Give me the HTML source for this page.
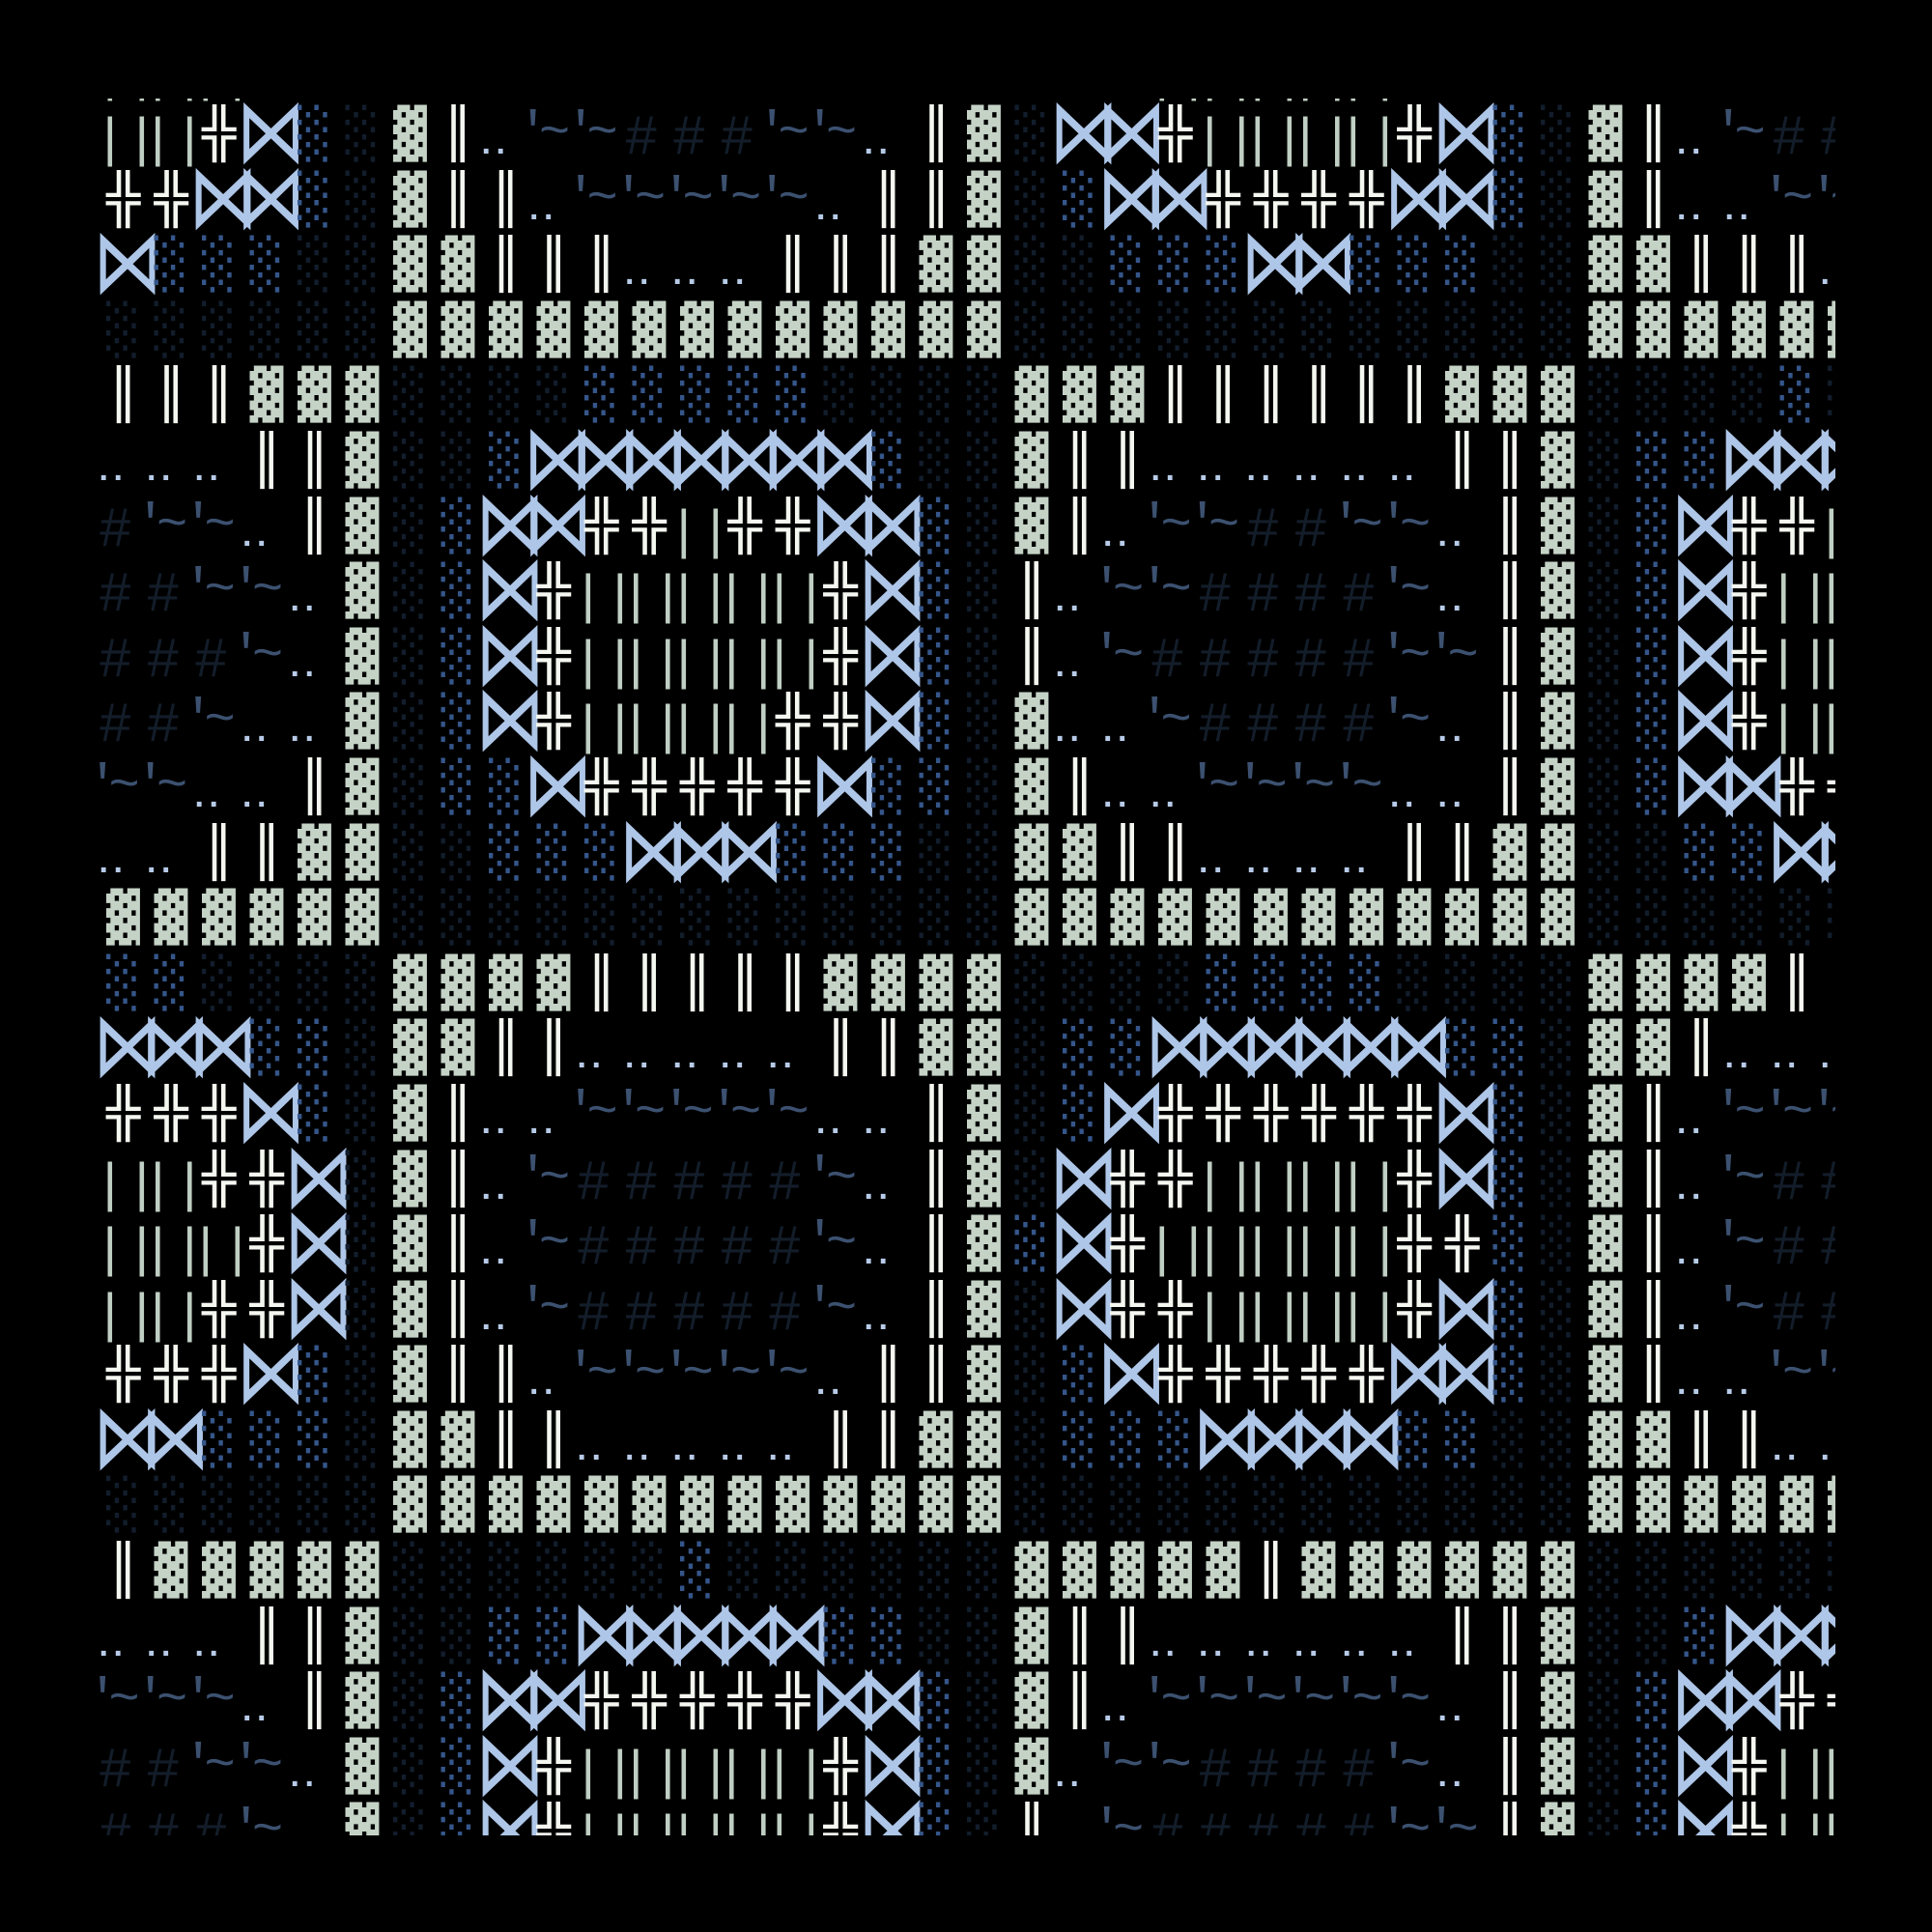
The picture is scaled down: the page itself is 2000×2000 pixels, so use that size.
<!DOCTYPE html>
<html><head><meta charset="utf-8">
<style>
html,body{margin:0;padding:0;background:#000;}
body{width:2000px;height:2000px;overflow:hidden;position:relative;}
#g{position:absolute;left:102px;top:102px;width:1798px;height:1798px;overflow:hidden;}
#in{position:absolute;left:0;top:-67.6px;width:1900px;}
.r{display:flex;height:67.6px;}
.r i{flex:none;width:49.5px;height:67.6px;font-style:normal;white-space:pre;overflow:visible;position:relative;box-sizing:border-box;}
.bk,.dl,.pl,.ss,.sd{font-family:"DejaVu Sans Mono",monospace;font-size:58px;line-height:67.5px;padding-left:8px;transform:translateY(7px) scaleY(.874);transform-origin:0 0;}
.bk{color:#c5d3c7}
.dl,.pl{color:#f4f6f0}
.ss{color:#35568a}
.sd{color:#121d2c}
.bt{font-family:"DejaVu Sans",sans-serif;font-size:72px;line-height:67.6px;color:#aec6e8;text-indent:-6px;transform:scaleY(1.3);}
.ln{font-family:"Liberation Mono",monospace;font-size:56px;line-height:67.6px;color:#c0cfc3;text-indent:-5px;letter-spacing:-0.6px;transform:translateY(11px);}
.dt{font-family:"Liberation Mono",monospace;font-weight:bold;font-size:34px;line-height:67.6px;color:#b7cbe8;text-indent:-5px;letter-spacing:-5.4px;transform:translateY(16px);}
.tl{font-family:"Liberation Mono",monospace;font-size:54px;line-height:67.6px;color:#3c5170;text-indent:-12px;letter-spacing:-10px;transform:translateY(3px);}
.hs{font-family:"Liberation Mono",monospace;font-size:58px;line-height:67.6px;color:#131d2a;transform:translateY(9px);}
</style></head><body>
<div id="g"><div id="in">
<div class="r"><i class="ln">||</i><i class="ln">||</i><i class="ln">||</i><i></i><i></i><i></i><i></i><i></i><i class="dt">..</i><i></i><i></i><i></i><i></i><i></i><i></i><i></i><i class="dt">..</i><i></i><i></i><i></i><i></i><i></i><i class="ln">||</i><i class="ln">||</i><i class="ln">||</i><i class="ln">||</i><i class="ln">||</i><i></i><i></i><i></i><i></i><i></i><i></i><i class="dt">..</i><i></i><i></i><i></i></div>
<div class="r"><i class="ln">||</i><i class="ln">||</i><i class="pl">╬</i><i class="bt">⋈</i><i class="ss">░</i><i class="sd">░</i><i class="bk">▓</i><i class="dl">║</i><i class="dt">..</i><i class="tl">'~</i><i class="tl">'~</i><i class="hs">#</i><i class="hs">#</i><i class="hs">#</i><i class="tl">'~</i><i class="tl">'~</i><i class="dt">..</i><i class="dl">║</i><i class="bk">▓</i><i class="sd">░</i><i class="bt">⋈</i><i class="bt">⋈</i><i class="pl">╬</i><i class="ln">||</i><i class="ln">||</i><i class="ln">||</i><i class="ln">||</i><i class="pl">╬</i><i class="bt">⋈</i><i class="ss">░</i><i class="sd">░</i><i class="bk">▓</i><i class="dl">║</i><i class="dt">..</i><i class="tl">'~</i><i class="hs">#</i><i class="hs">#</i></div>
<div class="r"><i class="pl">╬</i><i class="pl">╬</i><i class="bt">⋈</i><i class="bt">⋈</i><i class="ss">░</i><i class="sd">░</i><i class="bk">▓</i><i class="dl">║</i><i class="dl">║</i><i class="dt">..</i><i class="tl">'~</i><i class="tl">'~</i><i class="tl">'~</i><i class="tl">'~</i><i class="tl">'~</i><i class="dt">..</i><i class="dl">║</i><i class="dl">║</i><i class="bk">▓</i><i class="sd">░</i><i class="ss">░</i><i class="bt">⋈</i><i class="bt">⋈</i><i class="pl">╬</i><i class="pl">╬</i><i class="pl">╬</i><i class="pl">╬</i><i class="bt">⋈</i><i class="bt">⋈</i><i class="ss">░</i><i class="sd">░</i><i class="bk">▓</i><i class="dl">║</i><i class="dt">..</i><i class="dt">..</i><i class="tl">'~</i><i class="tl">'~</i></div>
<div class="r"><i class="bt">⋈</i><i class="ss">░</i><i class="ss">░</i><i class="ss">░</i><i class="sd">░</i><i class="sd">░</i><i class="bk">▓</i><i class="bk">▓</i><i class="dl">║</i><i class="dl">║</i><i class="dl">║</i><i class="dt">..</i><i class="dt">..</i><i class="dt">..</i><i class="dl">║</i><i class="dl">║</i><i class="dl">║</i><i class="bk">▓</i><i class="bk">▓</i><i class="sd">░</i><i class="sd">░</i><i class="ss">░</i><i class="ss">░</i><i class="ss">░</i><i class="bt">⋈</i><i class="bt">⋈</i><i class="ss">░</i><i class="ss">░</i><i class="ss">░</i><i class="sd">░</i><i class="sd">░</i><i class="bk">▓</i><i class="bk">▓</i><i class="dl">║</i><i class="dl">║</i><i class="dl">║</i><i class="dt">..</i></div>
<div class="r"><i class="sd">░</i><i class="sd">░</i><i class="sd">░</i><i class="sd">░</i><i class="sd">░</i><i class="sd">░</i><i class="bk">▓</i><i class="bk">▓</i><i class="bk">▓</i><i class="bk">▓</i><i class="bk">▓</i><i class="bk">▓</i><i class="bk">▓</i><i class="bk">▓</i><i class="bk">▓</i><i class="bk">▓</i><i class="bk">▓</i><i class="bk">▓</i><i class="bk">▓</i><i class="sd">░</i><i class="sd">░</i><i class="sd">░</i><i class="sd">░</i><i class="sd">░</i><i class="sd">░</i><i class="sd">░</i><i class="sd">░</i><i class="sd">░</i><i class="sd">░</i><i class="sd">░</i><i class="sd">░</i><i class="bk">▓</i><i class="bk">▓</i><i class="bk">▓</i><i class="bk">▓</i><i class="bk">▓</i><i class="bk">▓</i></div>
<div class="r"><i class="dl">║</i><i class="dl">║</i><i class="dl">║</i><i class="bk">▓</i><i class="bk">▓</i><i class="bk">▓</i><i class="sd">░</i><i class="sd">░</i><i class="sd">░</i><i class="sd">░</i><i class="ss">░</i><i class="ss">░</i><i class="ss">░</i><i class="ss">░</i><i class="ss">░</i><i class="sd">░</i><i class="sd">░</i><i class="sd">░</i><i class="sd">░</i><i class="bk">▓</i><i class="bk">▓</i><i class="bk">▓</i><i class="dl">║</i><i class="dl">║</i><i class="dl">║</i><i class="dl">║</i><i class="dl">║</i><i class="dl">║</i><i class="bk">▓</i><i class="bk">▓</i><i class="bk">▓</i><i class="sd">░</i><i class="sd">░</i><i class="sd">░</i><i class="sd">░</i><i class="ss">░</i><i class="sd">░</i></div>
<div class="r"><i class="dt">..</i><i class="dt">..</i><i class="dt">..</i><i class="dl">║</i><i class="dl">║</i><i class="bk">▓</i><i class="sd">░</i><i class="sd">░</i><i class="ss">░</i><i class="bt">⋈</i><i class="bt">⋈</i><i class="bt">⋈</i><i class="bt">⋈</i><i class="bt">⋈</i><i class="bt">⋈</i><i class="bt">⋈</i><i class="ss">░</i><i class="sd">░</i><i class="sd">░</i><i class="bk">▓</i><i class="dl">║</i><i class="dl">║</i><i class="dt">..</i><i class="dt">..</i><i class="dt">..</i><i class="dt">..</i><i class="dt">..</i><i class="dt">..</i><i class="dl">║</i><i class="dl">║</i><i class="bk">▓</i><i class="sd">░</i><i class="ss">░</i><i class="ss">░</i><i class="bt">⋈</i><i class="bt">⋈</i><i class="bt">⋈</i></div>
<div class="r"><i class="hs">#</i><i class="tl">'~</i><i class="tl">'~</i><i class="dt">..</i><i class="dl">║</i><i class="bk">▓</i><i class="sd">░</i><i class="ss">░</i><i class="bt">⋈</i><i class="bt">⋈</i><i class="pl">╬</i><i class="pl">╬</i><i class="ln">||</i><i class="pl">╬</i><i class="pl">╬</i><i class="bt">⋈</i><i class="bt">⋈</i><i class="ss">░</i><i class="sd">░</i><i class="bk">▓</i><i class="dl">║</i><i class="dt">..</i><i class="tl">'~</i><i class="tl">'~</i><i class="hs">#</i><i class="hs">#</i><i class="tl">'~</i><i class="tl">'~</i><i class="dt">..</i><i class="dl">║</i><i class="bk">▓</i><i class="sd">░</i><i class="ss">░</i><i class="bt">⋈</i><i class="pl">╬</i><i class="pl">╬</i><i class="ln">||</i></div>
<div class="r"><i class="hs">#</i><i class="hs">#</i><i class="tl">'~</i><i class="tl">'~</i><i class="dt">..</i><i class="bk">▓</i><i class="sd">░</i><i class="ss">░</i><i class="bt">⋈</i><i class="pl">╬</i><i class="ln">||</i><i class="ln">||</i><i class="ln">||</i><i class="ln">||</i><i class="ln">||</i><i class="pl">╬</i><i class="bt">⋈</i><i class="ss">░</i><i class="sd">░</i><i class="dl">║</i><i class="dt">..</i><i class="tl">'~</i><i class="tl">'~</i><i class="hs">#</i><i class="hs">#</i><i class="hs">#</i><i class="hs">#</i><i class="tl">'~</i><i class="dt">..</i><i class="dl">║</i><i class="bk">▓</i><i class="sd">░</i><i class="ss">░</i><i class="bt">⋈</i><i class="pl">╬</i><i class="ln">||</i><i class="ln">||</i></div>
<div class="r"><i class="hs">#</i><i class="hs">#</i><i class="hs">#</i><i class="tl">'~</i><i class="dt">..</i><i class="bk">▓</i><i class="sd">░</i><i class="ss">░</i><i class="bt">⋈</i><i class="pl">╬</i><i class="ln">||</i><i class="ln">||</i><i class="ln">||</i><i class="ln">||</i><i class="ln">||</i><i class="pl">╬</i><i class="bt">⋈</i><i class="ss">░</i><i class="sd">░</i><i class="dl">║</i><i class="dt">..</i><i class="tl">'~</i><i class="hs">#</i><i class="hs">#</i><i class="hs">#</i><i class="hs">#</i><i class="hs">#</i><i class="tl">'~</i><i class="tl">'~</i><i class="dl">║</i><i class="bk">▓</i><i class="sd">░</i><i class="ss">░</i><i class="bt">⋈</i><i class="pl">╬</i><i class="ln">||</i><i class="ln">||</i></div>
<div class="r"><i class="hs">#</i><i class="hs">#</i><i class="tl">'~</i><i class="dt">..</i><i class="dt">..</i><i class="bk">▓</i><i class="sd">░</i><i class="ss">░</i><i class="bt">⋈</i><i class="pl">╬</i><i class="ln">||</i><i class="ln">||</i><i class="ln">||</i><i class="ln">||</i><i class="pl">╬</i><i class="pl">╬</i><i class="bt">⋈</i><i class="ss">░</i><i class="sd">░</i><i class="bk">▓</i><i class="dt">..</i><i class="dt">..</i><i class="tl">'~</i><i class="hs">#</i><i class="hs">#</i><i class="hs">#</i><i class="hs">#</i><i class="tl">'~</i><i class="dt">..</i><i class="dl">║</i><i class="bk">▓</i><i class="sd">░</i><i class="ss">░</i><i class="bt">⋈</i><i class="pl">╬</i><i class="ln">||</i><i class="ln">||</i></div>
<div class="r"><i class="tl">'~</i><i class="tl">'~</i><i class="dt">..</i><i class="dt">..</i><i class="dl">║</i><i class="bk">▓</i><i class="sd">░</i><i class="ss">░</i><i class="ss">░</i><i class="bt">⋈</i><i class="pl">╬</i><i class="pl">╬</i><i class="pl">╬</i><i class="pl">╬</i><i class="pl">╬</i><i class="bt">⋈</i><i class="ss">░</i><i class="ss">░</i><i class="sd">░</i><i class="bk">▓</i><i class="dl">║</i><i class="dt">..</i><i class="dt">..</i><i class="tl">'~</i><i class="tl">'~</i><i class="tl">'~</i><i class="tl">'~</i><i class="dt">..</i><i class="dt">..</i><i class="dl">║</i><i class="bk">▓</i><i class="sd">░</i><i class="ss">░</i><i class="bt">⋈</i><i class="bt">⋈</i><i class="pl">╬</i><i class="pl">╬</i></div>
<div class="r"><i class="dt">..</i><i class="dt">..</i><i class="dl">║</i><i class="dl">║</i><i class="bk">▓</i><i class="bk">▓</i><i class="sd">░</i><i class="sd">░</i><i class="ss">░</i><i class="ss">░</i><i class="ss">░</i><i class="bt">⋈</i><i class="bt">⋈</i><i class="bt">⋈</i><i class="ss">░</i><i class="ss">░</i><i class="ss">░</i><i class="sd">░</i><i class="sd">░</i><i class="bk">▓</i><i class="bk">▓</i><i class="dl">║</i><i class="dl">║</i><i class="dt">..</i><i class="dt">..</i><i class="dt">..</i><i class="dt">..</i><i class="dl">║</i><i class="dl">║</i><i class="bk">▓</i><i class="bk">▓</i><i class="sd">░</i><i class="sd">░</i><i class="ss">░</i><i class="ss">░</i><i class="bt">⋈</i><i class="bt">⋈</i></div>
<div class="r"><i class="bk">▓</i><i class="bk">▓</i><i class="bk">▓</i><i class="bk">▓</i><i class="bk">▓</i><i class="bk">▓</i><i class="sd">░</i><i class="sd">░</i><i class="sd">░</i><i class="sd">░</i><i class="sd">░</i><i class="sd">░</i><i class="sd">░</i><i class="sd">░</i><i class="sd">░</i><i class="sd">░</i><i class="sd">░</i><i class="sd">░</i><i class="sd">░</i><i class="bk">▓</i><i class="bk">▓</i><i class="bk">▓</i><i class="bk">▓</i><i class="bk">▓</i><i class="bk">▓</i><i class="bk">▓</i><i class="bk">▓</i><i class="bk">▓</i><i class="bk">▓</i><i class="bk">▓</i><i class="bk">▓</i><i class="sd">░</i><i class="sd">░</i><i class="sd">░</i><i class="sd">░</i><i class="sd">░</i><i class="sd">░</i></div>
<div class="r"><i class="ss">░</i><i class="ss">░</i><i class="sd">░</i><i class="sd">░</i><i class="sd">░</i><i class="sd">░</i><i class="bk">▓</i><i class="bk">▓</i><i class="bk">▓</i><i class="bk">▓</i><i class="dl">║</i><i class="dl">║</i><i class="dl">║</i><i class="dl">║</i><i class="dl">║</i><i class="bk">▓</i><i class="bk">▓</i><i class="bk">▓</i><i class="bk">▓</i><i class="sd">░</i><i class="sd">░</i><i class="sd">░</i><i class="sd">░</i><i class="ss">░</i><i class="ss">░</i><i class="ss">░</i><i class="ss">░</i><i class="sd">░</i><i class="sd">░</i><i class="sd">░</i><i class="sd">░</i><i class="bk">▓</i><i class="bk">▓</i><i class="bk">▓</i><i class="bk">▓</i><i class="dl">║</i><i></i></div>
<div class="r"><i class="bt">⋈</i><i class="bt">⋈</i><i class="bt">⋈</i><i class="ss">░</i><i class="ss">░</i><i class="sd">░</i><i class="bk">▓</i><i class="bk">▓</i><i class="dl">║</i><i class="dl">║</i><i class="dt">..</i><i class="dt">..</i><i class="dt">..</i><i class="dt">..</i><i class="dt">..</i><i class="dl">║</i><i class="dl">║</i><i class="bk">▓</i><i class="bk">▓</i><i class="sd">░</i><i class="ss">░</i><i class="ss">░</i><i class="bt">⋈</i><i class="bt">⋈</i><i class="bt">⋈</i><i class="bt">⋈</i><i class="bt">⋈</i><i class="bt">⋈</i><i class="ss">░</i><i class="ss">░</i><i class="sd">░</i><i class="bk">▓</i><i class="bk">▓</i><i class="dl">║</i><i class="dt">..</i><i class="dt">..</i><i class="dt">..</i></div>
<div class="r"><i class="pl">╬</i><i class="pl">╬</i><i class="pl">╬</i><i class="bt">⋈</i><i class="ss">░</i><i class="sd">░</i><i class="bk">▓</i><i class="dl">║</i><i class="dt">..</i><i class="dt">..</i><i class="tl">'~</i><i class="tl">'~</i><i class="tl">'~</i><i class="tl">'~</i><i class="tl">'~</i><i class="dt">..</i><i class="dt">..</i><i class="dl">║</i><i class="bk">▓</i><i class="sd">░</i><i class="ss">░</i><i class="bt">⋈</i><i class="pl">╬</i><i class="pl">╬</i><i class="pl">╬</i><i class="pl">╬</i><i class="pl">╬</i><i class="pl">╬</i><i class="bt">⋈</i><i class="ss">░</i><i class="sd">░</i><i class="bk">▓</i><i class="dl">║</i><i class="dt">..</i><i class="tl">'~</i><i class="tl">'~</i><i class="tl">'~</i></div>
<div class="r"><i class="ln">||</i><i class="ln">||</i><i class="pl">╬</i><i class="pl">╬</i><i class="bt">⋈</i><i class="sd">░</i><i class="bk">▓</i><i class="dl">║</i><i class="dt">..</i><i class="tl">'~</i><i class="hs">#</i><i class="hs">#</i><i class="hs">#</i><i class="hs">#</i><i class="hs">#</i><i class="tl">'~</i><i class="dt">..</i><i class="dl">║</i><i class="bk">▓</i><i class="sd">░</i><i class="bt">⋈</i><i class="pl">╬</i><i class="pl">╬</i><i class="ln">||</i><i class="ln">||</i><i class="ln">||</i><i class="ln">||</i><i class="pl">╬</i><i class="bt">⋈</i><i class="ss">░</i><i class="sd">░</i><i class="bk">▓</i><i class="dl">║</i><i class="dt">..</i><i class="tl">'~</i><i class="hs">#</i><i class="hs">#</i></div>
<div class="r"><i class="ln">||</i><i class="ln">||</i><i class="ln">||</i><i class="pl">╬</i><i class="bt">⋈</i><i class="sd">░</i><i class="bk">▓</i><i class="dl">║</i><i class="dt">..</i><i class="tl">'~</i><i class="hs">#</i><i class="hs">#</i><i class="hs">#</i><i class="hs">#</i><i class="hs">#</i><i class="tl">'~</i><i class="dt">..</i><i class="dl">║</i><i class="bk">▓</i><i class="ss">░</i><i class="bt">⋈</i><i class="pl">╬</i><i class="ln">||</i><i class="ln">||</i><i class="ln">||</i><i class="ln">||</i><i class="ln">||</i><i class="pl">╬</i><i class="pl">╬</i><i class="ss">░</i><i class="sd">░</i><i class="bk">▓</i><i class="dl">║</i><i class="dt">..</i><i class="tl">'~</i><i class="hs">#</i><i class="hs">#</i></div>
<div class="r"><i class="ln">||</i><i class="ln">||</i><i class="pl">╬</i><i class="pl">╬</i><i class="bt">⋈</i><i class="sd">░</i><i class="bk">▓</i><i class="dl">║</i><i class="dt">..</i><i class="tl">'~</i><i class="hs">#</i><i class="hs">#</i><i class="hs">#</i><i class="hs">#</i><i class="hs">#</i><i class="tl">'~</i><i class="dt">..</i><i class="dl">║</i><i class="bk">▓</i><i class="sd">░</i><i class="bt">⋈</i><i class="pl">╬</i><i class="pl">╬</i><i class="ln">||</i><i class="ln">||</i><i class="ln">||</i><i class="ln">||</i><i class="pl">╬</i><i class="bt">⋈</i><i class="ss">░</i><i class="sd">░</i><i class="bk">▓</i><i class="dl">║</i><i class="dt">..</i><i class="tl">'~</i><i class="hs">#</i><i class="hs">#</i></div>
<div class="r"><i class="pl">╬</i><i class="pl">╬</i><i class="pl">╬</i><i class="bt">⋈</i><i class="ss">░</i><i class="sd">░</i><i class="bk">▓</i><i class="dl">║</i><i class="dl">║</i><i class="dt">..</i><i class="tl">'~</i><i class="tl">'~</i><i class="tl">'~</i><i class="tl">'~</i><i class="tl">'~</i><i class="dt">..</i><i class="dl">║</i><i class="dl">║</i><i class="bk">▓</i><i class="sd">░</i><i class="ss">░</i><i class="bt">⋈</i><i class="pl">╬</i><i class="pl">╬</i><i class="pl">╬</i><i class="pl">╬</i><i class="pl">╬</i><i class="bt">⋈</i><i class="bt">⋈</i><i class="ss">░</i><i class="sd">░</i><i class="bk">▓</i><i class="dl">║</i><i class="dt">..</i><i class="dt">..</i><i class="tl">'~</i><i class="tl">'~</i></div>
<div class="r"><i class="bt">⋈</i><i class="bt">⋈</i><i class="ss">░</i><i class="ss">░</i><i class="ss">░</i><i class="sd">░</i><i class="bk">▓</i><i class="bk">▓</i><i class="dl">║</i><i class="dl">║</i><i class="dt">..</i><i class="dt">..</i><i class="dt">..</i><i class="dt">..</i><i class="dt">..</i><i class="dl">║</i><i class="dl">║</i><i class="bk">▓</i><i class="bk">▓</i><i class="sd">░</i><i class="ss">░</i><i class="ss">░</i><i class="ss">░</i><i class="bt">⋈</i><i class="bt">⋈</i><i class="bt">⋈</i><i class="bt">⋈</i><i class="ss">░</i><i class="ss">░</i><i class="sd">░</i><i class="sd">░</i><i class="bk">▓</i><i class="bk">▓</i><i class="dl">║</i><i class="dl">║</i><i class="dt">..</i><i class="dt">..</i></div>
<div class="r"><i class="sd">░</i><i class="sd">░</i><i class="sd">░</i><i class="sd">░</i><i class="sd">░</i><i class="sd">░</i><i class="bk">▓</i><i class="bk">▓</i><i class="bk">▓</i><i class="bk">▓</i><i class="bk">▓</i><i class="bk">▓</i><i class="bk">▓</i><i class="bk">▓</i><i class="bk">▓</i><i class="bk">▓</i><i class="bk">▓</i><i class="bk">▓</i><i class="bk">▓</i><i class="sd">░</i><i class="sd">░</i><i class="sd">░</i><i class="sd">░</i><i class="sd">░</i><i class="sd">░</i><i class="sd">░</i><i class="sd">░</i><i class="sd">░</i><i class="sd">░</i><i class="sd">░</i><i class="sd">░</i><i class="bk">▓</i><i class="bk">▓</i><i class="bk">▓</i><i class="bk">▓</i><i class="bk">▓</i><i class="bk">▓</i></div>
<div class="r"><i class="dl">║</i><i class="bk">▓</i><i class="bk">▓</i><i class="bk">▓</i><i class="bk">▓</i><i class="bk">▓</i><i class="sd">░</i><i class="sd">░</i><i class="sd">░</i><i class="sd">░</i><i class="sd">░</i><i class="sd">░</i><i class="ss">░</i><i class="sd">░</i><i class="sd">░</i><i class="sd">░</i><i class="sd">░</i><i class="sd">░</i><i class="sd">░</i><i class="bk">▓</i><i class="bk">▓</i><i class="bk">▓</i><i class="bk">▓</i><i class="bk">▓</i><i class="dl">║</i><i class="bk">▓</i><i class="bk">▓</i><i class="bk">▓</i><i class="bk">▓</i><i class="bk">▓</i><i class="bk">▓</i><i class="sd">░</i><i class="sd">░</i><i class="sd">░</i><i class="sd">░</i><i class="sd">░</i><i class="sd">░</i></div>
<div class="r"><i class="dt">..</i><i class="dt">..</i><i class="dt">..</i><i class="dl">║</i><i class="dl">║</i><i class="bk">▓</i><i class="sd">░</i><i class="sd">░</i><i class="ss">░</i><i class="ss">░</i><i class="bt">⋈</i><i class="bt">⋈</i><i class="bt">⋈</i><i class="bt">⋈</i><i class="bt">⋈</i><i class="ss">░</i><i class="ss">░</i><i class="sd">░</i><i class="sd">░</i><i class="bk">▓</i><i class="dl">║</i><i class="dl">║</i><i class="dt">..</i><i class="dt">..</i><i class="dt">..</i><i class="dt">..</i><i class="dt">..</i><i class="dt">..</i><i class="dl">║</i><i class="dl">║</i><i class="bk">▓</i><i class="sd">░</i><i class="sd">░</i><i class="ss">░</i><i class="bt">⋈</i><i class="bt">⋈</i><i class="bt">⋈</i></div>
<div class="r"><i class="tl">'~</i><i class="tl">'~</i><i class="tl">'~</i><i class="dt">..</i><i class="dl">║</i><i class="bk">▓</i><i class="sd">░</i><i class="ss">░</i><i class="bt">⋈</i><i class="bt">⋈</i><i class="pl">╬</i><i class="pl">╬</i><i class="pl">╬</i><i class="pl">╬</i><i class="pl">╬</i><i class="bt">⋈</i><i class="bt">⋈</i><i class="ss">░</i><i class="sd">░</i><i class="bk">▓</i><i class="dl">║</i><i class="dt">..</i><i class="tl">'~</i><i class="tl">'~</i><i class="tl">'~</i><i class="tl">'~</i><i class="tl">'~</i><i class="tl">'~</i><i class="dt">..</i><i class="dl">║</i><i class="bk">▓</i><i class="sd">░</i><i class="ss">░</i><i class="bt">⋈</i><i class="bt">⋈</i><i class="pl">╬</i><i class="pl">╬</i></div>
<div class="r"><i class="hs">#</i><i class="hs">#</i><i class="tl">'~</i><i class="tl">'~</i><i class="dt">..</i><i class="bk">▓</i><i class="sd">░</i><i class="ss">░</i><i class="bt">⋈</i><i class="pl">╬</i><i class="ln">||</i><i class="ln">||</i><i class="ln">||</i><i class="ln">||</i><i class="ln">||</i><i class="pl">╬</i><i class="bt">⋈</i><i class="ss">░</i><i class="sd">░</i><i class="bk">▓</i><i class="dt">..</i><i class="tl">'~</i><i class="tl">'~</i><i class="hs">#</i><i class="hs">#</i><i class="hs">#</i><i class="hs">#</i><i class="tl">'~</i><i class="dt">..</i><i class="dl">║</i><i class="bk">▓</i><i class="sd">░</i><i class="ss">░</i><i class="bt">⋈</i><i class="pl">╬</i><i class="ln">||</i><i class="ln">||</i></div>
<div class="r"><i class="hs">#</i><i class="hs">#</i><i class="hs">#</i><i class="tl">'~</i><i></i><i class="bk">▓</i><i class="sd">░</i><i class="ss">░</i><i class="bt">⋈</i><i class="pl">╬</i><i class="ln">||</i><i class="ln">||</i><i class="ln">||</i><i class="ln">||</i><i class="ln">||</i><i class="pl">╬</i><i class="bt">⋈</i><i class="ss">░</i><i class="sd">░</i><i class="dl">║</i><i class="dt">..</i><i class="tl">'~</i><i class="hs">#</i><i class="hs">#</i><i class="hs">#</i><i class="hs">#</i><i class="hs">#</i><i class="tl">'~</i><i class="tl">'~</i><i class="dl">║</i><i class="bk">▓</i><i class="sd">░</i><i class="ss">░</i><i class="bt">⋈</i><i class="pl">╬</i><i class="ln">||</i><i class="ln">||</i></div>
</div></div>
</body></html>
